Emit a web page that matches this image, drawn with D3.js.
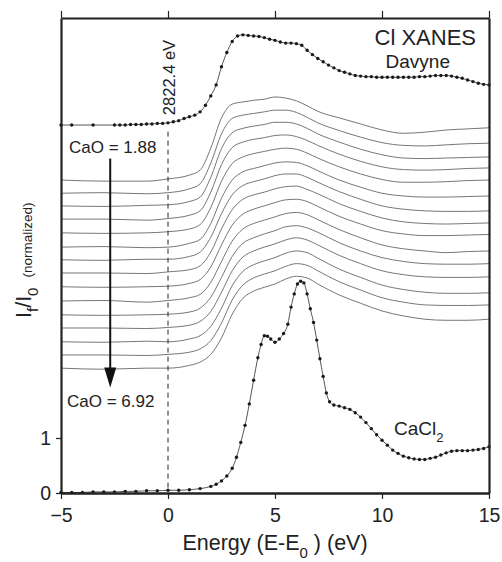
<!DOCTYPE html>
<html>
<head>
<meta charset="utf-8">
<script src="https://cdn.jsdelivr.net/npm/d3@7"></script>
<style>
  body { margin: 0; background: #fff; }
  text { font-family: "Liberation Sans", Arial, sans-serif; fill: #222; }
</style>
</head>
<body>
<script>
// ---- data ----
const xTicks = [-5, 0, 5, 10, 15]
const yTicks = [0, 1]

// Davyne reference spectrum [E, I]
const davyne = [
  [-5, 6.69], [-4.5, 6.69], [-3.5, 6.69], [-2.5, 6.69], [-2.25, 6.69], [-2, 6.69],
  [-1.75, 6.70], [-1.5, 6.70], [-1.25, 6.70], [-1, 6.71], [-0.75, 6.71], [-0.5, 6.72],
  [-0.25, 6.72], [0, 6.73], [0.25, 6.75], [0.5, 6.77], [0.75, 6.81], [1, 6.84],
  [1.25, 6.87], [1.5, 6.93], [1.75, 7.05], [2, 7.22], [2.25, 7.42], [2.5, 7.75],
  [2.75, 8.01], [3, 8.21], [3.25, 8.31], [3.5, 8.33], [3.75, 8.32], [4, 8.31],
  [4.25, 8.30], [4.5, 8.28], [4.75, 8.25], [5, 8.23], [5.25, 8.20], [5.5, 8.18],
  [5.75, 8.18], [6, 8.17], [6.25, 8.14], [6.5, 8.05], [6.75, 7.97], [7, 7.90],
  [7.25, 7.84], [7.5, 7.78], [7.75, 7.73], [8, 7.68], [8.25, 7.65], [8.5, 7.62],
  [8.75, 7.59], [9, 7.58], [9.25, 7.57], [9.5, 7.57], [9.75, 7.56], [10, 7.56],
  [10.25, 7.56], [10.5, 7.56], [10.75, 7.56], [11, 7.56], [11.25, 7.56], [11.5, 7.56],
  [11.75, 7.57], [12, 7.57], [12.25, 7.58], [12.5, 7.59], [12.75, 7.59], [13, 7.59],
  [13.25, 7.58], [13.5, 7.56], [13.75, 7.54], [14, 7.51], [14.25, 7.48], [14.5, 7.45],
  [14.75, 7.43], [15, 7.42]
]

// CaCl2 reference spectrum [E, I]
const cacl2 = [
  [-5, 0.01], [-4.5, 0.01], [-4, 0.01], [-3.5, 0.02], [-3, 0.02], [-2.5, 0.02],
  [-2, 0.03], [-1.5, 0.03], [-1, 0.04], [-0.5, 0.04], [0, 0.05], [0.5, 0.05],
  [1, 0.06], [1.5, 0.08], [2, 0.12], [2.25, 0.16], [2.5, 0.22], [2.75, 0.31],
  [3, 0.45], [3.2, 0.65], [3.4, 0.92], [3.6, 1.23], [3.8, 1.62], [4, 2.05],
  [4.2, 2.46], [4.35, 2.70], [4.5, 2.86], [4.65, 2.85], [4.8, 2.80], [5, 2.74],
  [5.2, 2.80], [5.4, 2.90], [5.6, 3.07], [5.75, 3.38], [5.9, 3.62], [6.05, 3.80],
  [6.2, 3.85], [6.35, 3.82], [6.5, 3.62], [6.65, 3.35], [6.8, 3.10], [6.95, 2.78],
  [7.1, 2.44], [7.25, 2.12], [7.4, 1.82], [7.55, 1.66], [7.75, 1.60], [8, 1.58],
  [8.25, 1.55], [8.5, 1.52], [8.75, 1.46], [9, 1.38], [9.25, 1.28], [9.5, 1.17],
  [9.75, 1.06], [10, 0.96], [10.25, 0.87], [10.5, 0.78], [10.75, 0.72], [11, 0.67],
  [11.25, 0.64], [11.5, 0.62], [11.75, 0.61], [12, 0.61], [12.25, 0.63], [12.5, 0.65],
  [12.75, 0.69], [13, 0.73], [13.25, 0.76], [13.5, 0.77], [13.75, 0.77], [14, 0.77],
  [14.25, 0.78], [14.5, 0.79], [14.75, 0.81], [15, 0.84]
]

// glass spectra, CaO = 1.88 (top) ... 6.92 (bottom)
const glassEnergy = [-5, -3, -1, 0, 1, 1.5, 2, 2.5, 3, 3.5, 4, 4.5, 5, 5.5, 6, 6.5, 7, 8, 9, 10, 11, 12, 13, 14, 15]
const glassOffsets = [5.69, 5.45, 5.22, 4.98, 4.73, 4.47, 4.24, 4.00, 3.75, 3.49, 3.24, 3.00, 2.75, 2.51, 2.27]
const glassSpectra = [
  [0, -0.02, -0.02, 0.02, 0.09, 0.18, 0.58, 1.13, 1.38, 1.42, 1.45, 1.47, 1.51, 1.49, 1.44, 1.35, 1.25, 1.13, 1.02, 0.91, 0.85, 0.87, 0.91, 0.93, 0.95],
  [0, 0.01, -0.01, 0.01, 0.08, 0.17, 0.55, 1.08, 1.36, 1.42, 1.45, 1.48, 1.51, 1.51, 1.47, 1.38, 1.28, 1.14, 1.02, 0.92, 0.87, 0.86, 0.88, 0.90, 0.91],
  [0, -0.01, 0.01, 0.02, 0.08, 0.16, 0.52, 1.04, 1.33, 1.41, 1.45, 1.48, 1.52, 1.52, 1.49, 1.41, 1.31, 1.16, 1.03, 0.93, 0.87, 0.86, 0.87, 0.88, 0.89],
  [0, 0, -0.02, 0.01, 0.07, 0.15, 0.49, 0.99, 1.30, 1.40, 1.45, 1.48, 1.52, 1.53, 1.50, 1.43, 1.34, 1.18, 1.05, 0.95, 0.90, 0.89, 0.90, 0.92, 0.93],
  [0, -0.01, 0, 0.02, 0.07, 0.15, 0.46, 0.94, 1.26, 1.38, 1.44, 1.48, 1.52, 1.54, 1.52, 1.45, 1.36, 1.20, 1.07, 0.97, 0.92, 0.92, 0.93, 0.95, 0.96],
  [0, 0.01, -0.01, 0, 0.07, 0.14, 0.43, 0.89, 1.22, 1.37, 1.43, 1.48, 1.53, 1.55, 1.54, 1.48, 1.39, 1.22, 1.09, 0.98, 0.93, 0.91, 0.91, 0.92, 0.93],
  [0, -0.01, 0.01, 0.01, 0.06, 0.14, 0.41, 0.84, 1.18, 1.35, 1.42, 1.47, 1.53, 1.56, 1.56, 1.50, 1.41, 1.24, 1.10, 0.98, 0.92, 0.89, 0.88, 0.88, 0.89],
  [0, 0, -0.01, 0.02, 0.06, 0.13, 0.38, 0.80, 1.15, 1.34, 1.42, 1.47, 1.53, 1.57, 1.58, 1.52, 1.44, 1.26, 1.12, 1.00, 0.93, 0.90, 0.89, 0.90, 0.91],
  [0, -0.01, 0, 0.01, 0.06, 0.13, 0.36, 0.76, 1.12, 1.32, 1.41, 1.47, 1.53, 1.58, 1.59, 1.55, 1.46, 1.28, 1.14, 1.02, 0.96, 0.93, 0.93, 0.94, 0.95],
  [0, 0.01, -0.02, 0.01, 0.06, 0.12, 0.34, 0.72, 1.09, 1.31, 1.41, 1.47, 1.53, 1.59, 1.61, 1.57, 1.48, 1.30, 1.15, 1.02, 0.95, 0.91, 0.88, 0.90, 0.91],
  [0, -0.01, 0, 0.01, 0.05, 0.12, 0.32, 0.68, 1.06, 1.30, 1.40, 1.47, 1.53, 1.60, 1.62, 1.58, 1.50, 1.31, 1.16, 1.04, 0.97, 0.93, 0.92, 0.92, 0.93],
  [0, 0, -0.01, 0.01, 0.05, 0.12, 0.30, 0.65, 1.04, 1.29, 1.40, 1.47, 1.53, 1.60, 1.64, 1.60, 1.51, 1.32, 1.17, 1.04, 0.97, 0.93, 0.92, 0.92, 0.93],
  [0, -0.01, 0.01, 0, 0.05, 0.11, 0.28, 0.61, 1.02, 1.28, 1.40, 1.47, 1.53, 1.61, 1.65, 1.62, 1.52, 1.32, 1.17, 1.03, 0.95, 0.90, 0.88, 0.88, 0.89],
  [0, 0, -0.01, 0.01, 0.05, 0.11, 0.26, 0.58, 1.00, 1.27, 1.40, 1.47, 1.53, 1.61, 1.66, 1.63, 1.53, 1.33, 1.18, 1.04, 0.96, 0.91, 0.90, 0.90, 0.91],
  [0, -0.02, 0, 0, 0.05, 0.11, 0.25, 0.55, 0.98, 1.27, 1.40, 1.47, 1.53, 1.62, 1.67, 1.64, 1.53, 1.33, 1.18, 1.04, 0.95, 0.89, 0.87, 0.87, 0.89]
]

const e0Label = '2822.4 eV'
const caoFirst = 'CaO = 1.88'
const caoLast = 'CaO = 6.92'
const caoArrow = [6.08, 1.92]   // arrow start / tip in intensity units
const caoArrowE = -2.7
const e0Line = [6.57, 0.07]

// ---- layout ----
const m = { width: 502, height: 562, left: 61, right: 489, top: 18, bottom: 493 }

const svg = d3.select('body').append('svg')
    .attr('width', m.width)
    .attr('height', m.height)

const x = d3.scaleLinear().domain([-5, 15]).range([m.left, m.right])
const y = d3.scaleLinear().domain([0, 8.636]).range([m.bottom, m.top])

const g = svg.append('g')

// glass spectra
const glassLine = d3.line()
    .x(d => x(d[0]))
    .y(d => y(d[1]))
    .curve(d3.curveMonotoneX)

glassSpectra.forEach(function(s, i) {
    const pts = glassEnergy.map((e, j) => [e, glassOffsets[i] + s[j]])
    g.append('path')
        .attr('d', glassLine(pts))
        .attr('fill', 'none')
        .attr('stroke', '#666')
        .attr('stroke-width', 0.9)
})

// reference spectra: thin line plus dots
const refLine = d3.line()
    .x(d => x(d[0]))
    .y(d => y(d[1]))
    .curve(d3.curveMonotoneX)

;[davyne, cacl2].forEach(function(s) {
    g.append('path')
        .attr('d', refLine(s))
        .attr('fill', 'none')
        .attr('stroke', '#555')
        .attr('stroke-width', 1)
    g.selectAll(null)
        .data(s)
        .enter()
        .append('circle')
            .attr('cx', d => x(d[0]))
            .attr('cy', d => y(d[1]))
            .attr('r', 1.7)
            .attr('fill', '#1a1a1a')
})

// E0 dashed line
g.append('line')
    .attr('x1', x(0)).attr('x2', x(0))
    .attr('y1', y(e0Line[0])).attr('y2', y(e0Line[1]))
    .attr('stroke', '#222')
    .attr('stroke-width', 1)
    .attr('stroke-dasharray', '5,4')

g.append('text')
    .attr('transform', `translate(${x(0) + 7},${y(6.87)}) rotate(-90)`)
    .attr('font-size', 16.5)
    .text(e0Label)

// CaO arrow
g.append('line')
    .attr('x1', x(caoArrowE)).attr('x2', x(caoArrowE))
    .attr('y1', y(caoArrow[0])).attr('y2', y(caoArrow[1]) - 18)
    .attr('stroke', '#111')
    .attr('stroke-width', 2)
g.append('path')
    .attr('d', `M${x(caoArrowE) - 6},${y(caoArrow[1]) - 20} L${x(caoArrowE) + 6},${y(caoArrow[1]) - 20} L${x(caoArrowE)},${y(caoArrow[1])} Z`)
    .attr('fill', '#111')

g.append('text')
    .attr('x', 69).attr('y', 153)
    .attr('font-size', 17)
    .text(caoFirst)
g.append('text')
    .attr('x', 67).attr('y', 407)
    .attr('font-size', 17)
    .text(caoLast)

// labels in plot
g.append('text')
    .attr('x', 476).attr('y', 45)
    .attr('text-anchor', 'end')
    .attr('font-size', 22)
    .text('Cl XANES')
g.append('text')
    .attr('x', 450).attr('y', 68)
    .attr('text-anchor', 'end')
    .attr('font-size', 19)
    .text('Davyne')
const cl = g.append('text')
    .attr('x', 394).attr('y', 435)
    .attr('font-size', 19)
cl.append('tspan').text('CaCl')
cl.append('tspan').attr('font-size', 13).attr('dy', 7).text('2')

// ---- axes ----
const xAxisB = d3.axisBottom(x).tickValues(xTicks).tickSize(6).tickFormat(d3.format('d'))
const xAxisT = d3.axisTop(x).tickValues(xTicks).tickSize(7).tickFormat('')
const yAxisL = d3.axisLeft(y).tickValues(yTicks).tickSize(5).tickFormat(d3.format('d'))
const yAxisR = d3.axisRight(y).tickValues([]).tickSize(0)

function styleAxis(sel, w) {
    sel.select('.domain').attr('stroke', '#222').attr('stroke-width', w)
    sel.selectAll('.tick line').attr('stroke', '#222').attr('stroke-width', 1.2)
    sel.selectAll('.tick text')
        .attr('font-family', '"Liberation Sans", Arial, sans-serif')
        .attr('font-size', 19.5)
        .attr('fill', '#222')
}

svg.append('g')
    .attr('transform', `translate(0,${m.bottom})`)
    .call(xAxisB.tickSizeOuter(0))
    .call(s => styleAxis(s, 2.5))
    .call(s => s.selectAll('.tick text').attr('dy', '1.05em'))
svg.append('g')
    .attr('transform', `translate(0,${m.top})`)
    .call(xAxisT.tickSizeOuter(0))
    .call(s => styleAxis(s, 2))
svg.append('g')
    .attr('transform', `translate(${m.left},0)`)
    .call(yAxisL.tickSizeOuter(0))
    .call(s => styleAxis(s, 2.2))
    .call(s => s.selectAll('.tick text').attr('dx', '-0.1em'))
svg.append('g')
    .attr('transform', `translate(${m.right},0)`)
    .call(yAxisR.tickSizeOuter(0))
    .call(s => styleAxis(s, 2.2))

// axis titles
const xt = svg.append('text')
    .attr('x', 275).attr('y', 550)
    .attr('text-anchor', 'middle')
    .attr('font-size', 21.5)
xt.append('tspan').text('Energy (E-E')
xt.append('tspan').attr('font-size', 15).attr('dy', 8).text('0')
xt.append('tspan').attr('dy', -8).text(' ) (eV)')

const yt = svg.append('text')
    .attr('transform', 'translate(31,318) rotate(-90)')
    .attr('font-size', 21.5)
yt.append('tspan').text('I')
yt.append('tspan').attr('font-size', 15).attr('dy', 7).text('f')
yt.append('tspan').attr('dy', -7).text('/I')
yt.append('tspan').attr('font-size', 15).attr('dy', 7).text('0')
yt.append('tspan').attr('font-size', 13.5).attr('dy', -6).attr('dx', 10).text('(normalized)')
</script>
</body>
</html>
